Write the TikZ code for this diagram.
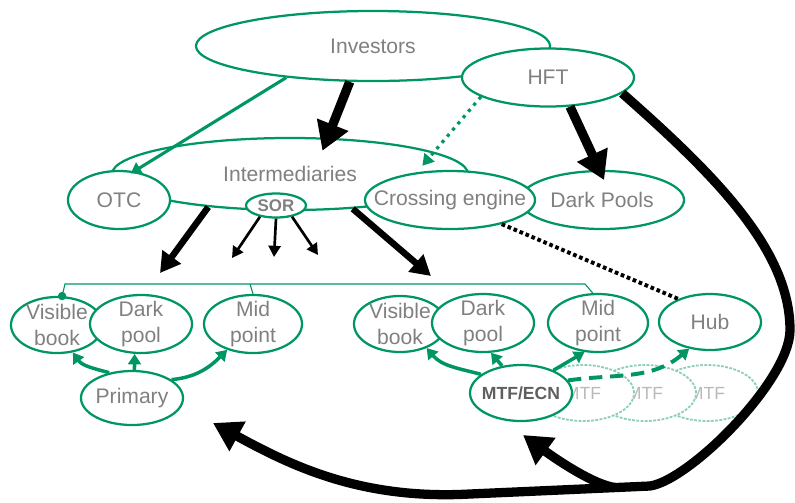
\documentclass[tikz,border=0pt]{standalone}
\usepackage{fontspec}
\setmainfont{Liberation Sans}
\usetikzlibrary{arrows.meta, shapes.geometric}

\definecolor{venueGreen}{RGB}{0,150,100}
\definecolor{labelGray}{RGB}{128,128,128}
\definecolor{darkGray}{RGB}{95,95,95}

\tikzset{
	venue/.style = {ellipse, draw = venueGreen, fill = white, line width = 1.6pt, inner sep = 0pt, minimum width = 2.55cm, minimum height = 1.45cm},
	ghost/.style = {venue, draw = venueGreen!45, line width = 1.3pt, dash pattern = on 2pt off 1pt, minimum height = 1.4cm},
	every label/.style = {text = labelGray, font = \fontsize{15}{18}\selectfont, align = center, inner sep = 0pt},
	flow/.style = {draw = venueGreen, line width = 2.5pt, -{Triangle[length = 0.26cm, width = 0.32cm]}},
	heavy/.style = {line width = 6.6pt, -{Triangle[length = 0.7cm, width = 0.8cm]}},
	medium/.style = {line width = 4.6pt, -{Triangle[length = 0.5cm, width = 0.55cm]}},
	light/.style = {line width = 1.9pt, -{Triangle[length = 0.28cm, width = 0.3cm]}},
	greendots/.style = {draw = venueGreen, line width = 2.3pt, dash pattern = on 2.3pt off 3.5pt, -{Triangle[length = 0.28cm, width = 0.32cm]}},
	blackdots/.style = {line width = 2.8pt, dash pattern = on 2.6pt off 2pt},
}

\begin{document}
\begin{tikzpicture}[x = 0.025cm, y = -0.025cm]
		\useasboundingbox (0, 0) rectangle (795, 502);

		\node [venue, minimum width = 8.9cm, minimum height = 1.8cm, label = center:Intermediaries] (intermediaries) at (290, 174) {};
		\node [venue, minimum width = 8.85cm, minimum height = 1.75cm, label = center:Investors] (investors) at (373, 46) {};
		\node [venue, minimum width = 4.3cm, label = center:HFT] (hft) at (548, 77.5) {};
		\node [venue, label = center:OTC] (otc) at (119, 200) {};
		\node [venue, minimum width = 4.1cm, label = center:Dark Pools] (darkpools) at (602, 200) {};
		\node [venue, minimum width = 4.25cm, label = center:Crossing engine] (crossing) at (450, 200) {};
		\node [venue, minimum width = 1.5cm, minimum height = 0.6cm, label = {[font = \fontsize{12}{14}\selectfont\bfseries]center:SOR}] (sor) at (276, 205.5) {};

		\node [venue, minimum width = 2.3cm, minimum height = 1.4cm, label = {center:Visible\\book}] (visibleL) at (57, 325) {};
		\node [venue, label = {center:Dark\\pool}] (darkpoolL) at (141, 324) {};
		\node [venue, minimum width = 2.45cm, label = {center:Mid\\point}] (midL) at (253, 324) {};
		\node [venue, minimum height = 1.35cm, label = center:Primary] (primaryL) at (132, 398) {};

		\node [venue, minimum width = 2.3cm, minimum height = 1.4cm, label = {center:Visible\\book}] (visibleR) at (400, 324) {};
		\node [venue, label = {center:Dark\\pool}] (darkpoolR) at (483, 323) {};
		\node [venue, minimum width = 2.5cm, label = {center:Mid\\point}] (midR) at (598, 323) {};
		\node [venue, minimum height = 1.4cm, label = center:Hub] (hub) at (710, 322) {};

		\foreach \g/\gx in {3/707, 2/645, 1/583}
			\node [ghost, label = {[text = labelGray!55, font = \fontsize{12.5}{15}\selectfont]center:MTF}] (mtf\g) at (\gx, 393) {};
		\node [venue, minimum height = 1.4cm, label = {[text = darkGray, font = \fontsize{12.5}{15}\selectfont\bfseries]center:MTF/ECN}] (mtf) at (521, 393) {};

		\coordinate (bracketL) at (65, 284);
		\coordinate (bracketM) at (250, 284);
		\coordinate (bracketR) at (585, 284);
		\draw [venueGreen, line width = 0.8pt] (visibleL.80) -- (bracketL) -- (bracketR) -- (midR.100);
		\draw [venueGreen, line width = 0.8pt] (bracketM) -- (midL.north);
		\fill [venueGreen] (visibleL.80) circle (3pt);

		\draw [flow, line width = 2.2pt, shorten >= -3pt] (investors.200) -- (otc.62);
		\draw [heavy, shorten >= -10pt] (investors.237) -- (intermediaries.44);
		\draw [greendots, shorten >= 6pt] (hft.196) -- (crossing.140);
		\draw [heavy, shorten >= -8pt] (hft.307) -- (darkpools.95);
		\draw [blackdots] (crossing.335) -- (hub.144);

		\coordinate (leftMarket) at (160, 273);
		\coordinate (rightMarket) at (431, 276);
		\draw [medium] (intermediaries.202) -- (leftMarket);
		\draw [medium] (intermediaries.331) -- (rightMarket);

		\coordinate (sorA) at (232, 258);
		\coordinate (sorB) at (274, 257);
		\coordinate (sorC) at (318, 255);
		\draw [light] (sor.215) -- (sorA);
		\draw [light] (sor.270) -- (sorB);
		\draw [light] (sor.325) -- (sorC);

		\draw [flow] (primaryL.132) to [out = 165, in = -55] (visibleL.300);
		\draw [flow] (primaryL.85) -- (darkpoolL.258);
		\draw [flow] (primaryL.25) to [out = 5, in = 225] (midL.225);

		\draw [flow] (mtf.155) to [out = 165, in = -50] (visibleR.318);
		\draw [flow] (mtf.125) -- (darkpoolR.285);
		\draw [flow] (mtf.35) -- (midR.245);
		\draw [flow, line width = 2.8pt, dash pattern = on 9.5pt off 5.5pt] (mtf.15) to [out = 8, in = 220] (hub.232);

		\coordinate (fork) at (615, 487.5);
		\coordinate (primaryReturn) at (213, 423);
		\coordinate (mtfReturn) at (523, 435);
		\draw [heavy] (hft.348) .. controls (715, 175) and (790, 250) .. (790, 330) .. controls (790, 380) and (690, 480) .. (650, 486) -- (470, 494) .. controls (360, 500) and (290, 465) .. (primaryReturn);
		\draw [heavy] (fork) .. controls (595, 485) and (560, 462) .. (mtfReturn);
	\end{tikzpicture}
\end{document}
